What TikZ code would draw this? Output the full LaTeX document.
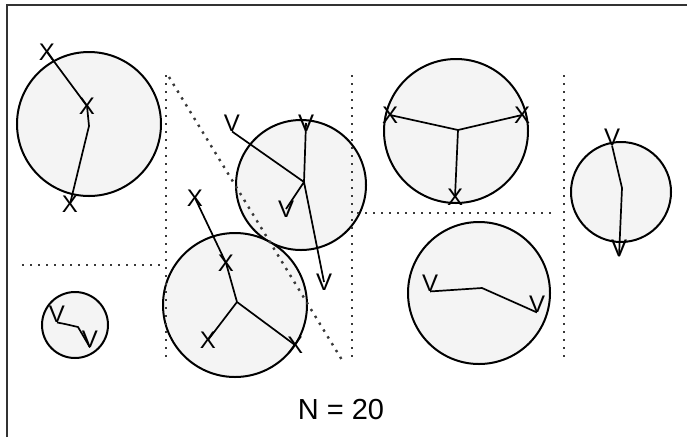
\documentclass[tikz,border=0pt]{standalone}
\usepackage{fontspec}
\setmainfont{Liberation Sans}
\usetikzlibrary{positioning}

\begin{document}
\begin{tikzpicture}[x=1pt,y=-1pt,
    cell/.style={draw=black, line width=2pt, fill=gray!9},
    part/.style={line width=2.4pt, dash pattern=on 2.4pt off 5.6pt, gray!45!black},
    bond/.style={line width=1.7pt},
    mk/.style={inner sep=0pt, font=\fontsize{24}{24}\selectfont}]

    \useasboundingbox (0,0) rectangle (687,437);

    % Frame
    \draw[line width=2pt, gray!40!black] (7,437) -- (7,5) -- (687,5);

    % Cells
    \draw[cell] (89,124) circle[radius=72pt];
    \draw[cell] (301,185) circle[radius=65pt];
    \draw[cell] (456,131) circle[radius=72pt];
    \draw[cell] (621,192) circle[radius=50pt];
    \draw[cell] (235,305) circle[radius=72pt];
    \draw[cell] (479,293) circle[radius=71pt];
    \draw[cell] (75,325) circle[radius=33pt];

    % Partition lines
    \draw[part] (22,265) -- (160,265);
    \draw[part] (166,75) -- (166,360);
    \draw[part] (169,77) -- (342,360);
    \draw[part] (352,75) -- (352,360);
    \draw[part] (357,213) -- (556,213);
    \draw[part] (564,75) -- (564,362);

    % Markers
    \node[mk] (xA1) at (47,52) {X};
    \node[mk] (xA2) at (87,106) {X};
    \coordinate (hA) at (89,126);
    \node[mk] (xA3) at (70,204) {X};

    \coordinate (hB) at (304,182);
    \node[mk] (vB1) at (232,123) {V};
    \node[mk] (vB2) at (306,123) {V};
    \node[mk] (vB3) at (286,209) {V};
    \node[mk] (vB4) at (324,282) {V};

    \coordinate (hC) at (458,130);
    \node[mk] (xC1) at (390,115) {X};
    \node[mk] (xC2) at (522,115) {X};
    \node[mk] (xC3) at (455,197) {X};

    \node[mk] (vD1) at (612,137) {V};
    \coordinate (hD) at (622,188);
    \node[mk] (vD2) at (619,248) {V};

    \coordinate (hE) at (237,302);
    \node[mk] (xE1) at (195,198) {X};
    \node[mk] (xE2) at (226,263) {X};
    \node[mk] (xE3) at (208,340) {X};
    \node[mk] (xE4) at (295,345) {X};

    \coordinate (hF) at (482,288);
    \node[mk] (vF1) at (430,283) {V};
    \node[mk] (vF2) at (537,304) {V};

    \node[mk] (vG1) at (57,314) {V};
    \coordinate (kG1) at (65,324);
    \coordinate (kG2) at (78,327);
    \node[mk] (vG2) at (90,339) {V};

    % Bonds
    \draw[bond] (xA1.center) -- (xA2.center) -- (hA) -- (xA3.center);
    \draw[bond] (vB1.south) -- (hB) -- (vB2.center);
    \draw[bond] (vB3.center) -- (hB) -- (vB4.center);
    \draw[bond] (xC1.center) -- (hC) -- (xC2.center);
    \draw[bond] (hC) -- (xC3.center);
    \draw[bond] (vD1.south) -- (hD) -- (vD2.south);
    \draw[bond] (xE1.center) -- (xE2.center) -- (hE) -- (xE4.center);
    \draw[bond] (hE) -- (xE3.center);
    \draw[bond] (vF1.south) -- (hF) -- (vF2.south);
    \draw[bond] (vG1.south) -- (kG1) -- (kG2) -- (vG2.south);

    % Count
    \node[font=\fontsize{29}{29}\selectfont] (count) at (341,410) {N = 20};
\end{tikzpicture}
\end{document}
